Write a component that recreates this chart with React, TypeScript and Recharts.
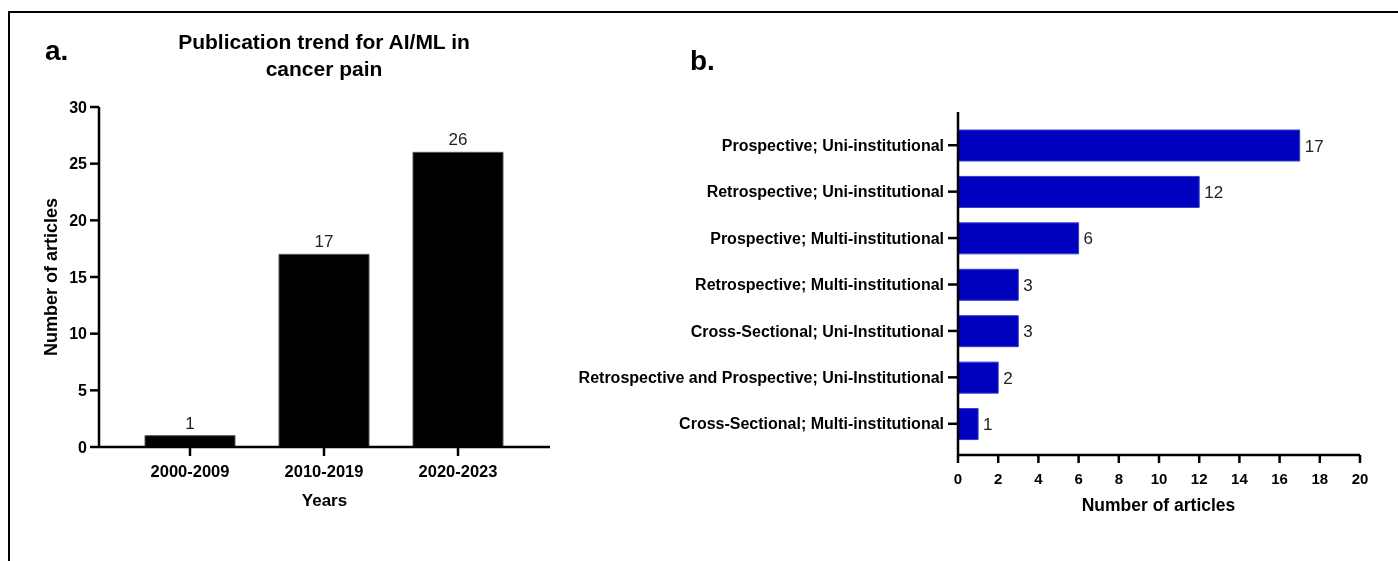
import { Bar, BarChart, LabelList, XAxis, YAxis } from "recharts";

const FONT = "'Liberation Sans', Arial, Helvetica, sans-serif";

// panel a
const decades = ["2000-2009", "2010-2019", "2020-2023"];
const decadeCounts = [1, 17, 26];
const yTicksA = [0, 5, 10, 15, 20, 25, 30];

// panel b
const designs = [
  "Prospective; Uni-institutional",
  "Retrospective; Uni-institutional",
  "Prospective; Multi-institutional",
  "Retrospective; Multi-institutional",
  "Cross-Sectional; Uni-Institutional",
  "Retrospective and Prospective; Uni-Institutional",
  "Cross-Sectional; Multi-institutional",
];
const designCounts = [17, 12, 6, 3, 3, 2, 1];
const xTicksB = [0, 2, 4, 6, 8, 10, 12, 14, 16, 18, 20];

const trendData = decades.map((d, i) => ({ decade: d, count: decadeCounts[i] }));
const designData = designs.map((d, i) => ({ design: d, count: designCounts[i] }));

const axisLine = { stroke: "#000", strokeWidth: 2.5 };
const tickLine = { stroke: "#000", strokeWidth: 2.5 };

export default function App() {
  return (
    <div
      style={{
        position: "relative",
        width: 1390,
        height: 545,
        fontFamily: FONT,
        background: "#fff",
      }}
    >
      <style>{"html{overflow:hidden}"}</style>
      {/* outer frame, runs off the right and bottom edges like the original */}
      <div
        style={{
          position: "fixed",
          left: 8,
          top: 11,
          right: -20,
          bottom: -20,
          border: "2px solid #000",
          boxSizing: "border-box",
        }}
      />

      {/* a. publication trend */}
      <div style={{ position: "absolute", left: 0, top: 0 }}>
        <BarChart
          width={600}
          height={545}
          data={trendData}
          margin={{ top: 99, right: 58, bottom: 46, left: 31 }}
          barSize={90}
        >
          <XAxis
            dataKey="decade"
            padding={{ left: 24, right: 25 }}
            axisLine={axisLine}
            tickLine={tickLine}
            tickSize={9}
            tickMargin={9}
            height={60}
            tick={{ fontSize: 16.5, fontWeight: 700, fill: "#000", fontFamily: FONT }}
          />
          <YAxis
            type="number"
            domain={[0, 30]}
            ticks={yTicksA}
            width={60}
            axisLine={axisLine}
            tickLine={tickLine}
            tickSize={9}
            tickMargin={3}
            tick={{ fontSize: 16, fontWeight: 700, fill: "#000", fontFamily: FONT }}
          />
          <Bar dataKey="count" fill="#000" stroke="#555" strokeWidth={1} isAnimationActive={false}>
            <LabelList
              dataKey="count"
              position="top"
              offset={7}
              fill="#222"
              fontSize={17}
              fontFamily={FONT}
            />
          </Bar>
        </BarChart>
      </div>

      {/* b. study design */}
      <div style={{ position: "absolute", left: 552, top: 0 }}>
        <BarChart
          layout="vertical"
          width={838}
          height={545}
          data={designData}
          margin={{ top: 104, right: 38, bottom: 38, left: 0 }}
          barSize={31}
        >
          <XAxis
            type="number"
            domain={[0, 20]}
            ticks={xTicksB}
            axisLine={axisLine}
            tickLine={tickLine}
            tickSize={8}
            tickMargin={10}
            height={60}
            tick={{ fontSize: 15, fontWeight: 700, fill: "#000", fontFamily: FONT }}
          />
          <YAxis
            type="category"
            dataKey="design"
            width={398}
            padding={{ top: 10, bottom: 8 }}
            axisLine={axisLine}
            tickLine={tickLine}
            tickSize={10}
            tickMargin={4}
            tick={{ fontSize: 16, fontWeight: 700, fill: "#000", fontFamily: FONT }}
          />
          <Bar dataKey="count" fill="#0000BF" stroke="#3a3ad0" strokeWidth={1} isAnimationActive={false}>
            <LabelList
              dataKey="count"
              position="right"
              offset={5}
              fill="#222"
              fontSize={17}
              fontFamily={FONT}
            />
          </Bar>
        </BarChart>
      </div>

      {/* titles and panel letters */}
      <svg
        width={1390}
        height={545}
        style={{ position: "absolute", left: 0, top: 0, pointerEvents: "none" }}
        fontFamily={FONT}
      >
        <text x={37} y={52} fontSize={28} fontWeight={700} fill="#000">
          a.
        </text>
        <text x={682} y={62} fontSize={28} fontWeight={700} fill="#000">
          b.
        </text>
        <text x={316} y={41} fontSize={21} fontWeight={700} textAnchor="middle" fill="#000">
          Publication trend for AI/ML in
        </text>
        <text x={316} y={68} fontSize={21} fontWeight={700} textAnchor="middle" fill="#000">
          cancer pain
        </text>
        <text x={316.5} y={498} fontSize={17} fontWeight={700} textAnchor="middle" fill="#000">
          Years
        </text>
        <text
          x={49}
          y={269}
          fontSize={18}
          fontWeight={700}
          textAnchor="middle"
          fill="#000"
          transform="rotate(-90, 49, 269)"
        >
          Number of articles
        </text>
        <text x={1150.5} y={503} fontSize={17.5} fontWeight={700} textAnchor="middle" fill="#000">
          Number of articles
        </text>
      </svg>
    </div>
  );
}
